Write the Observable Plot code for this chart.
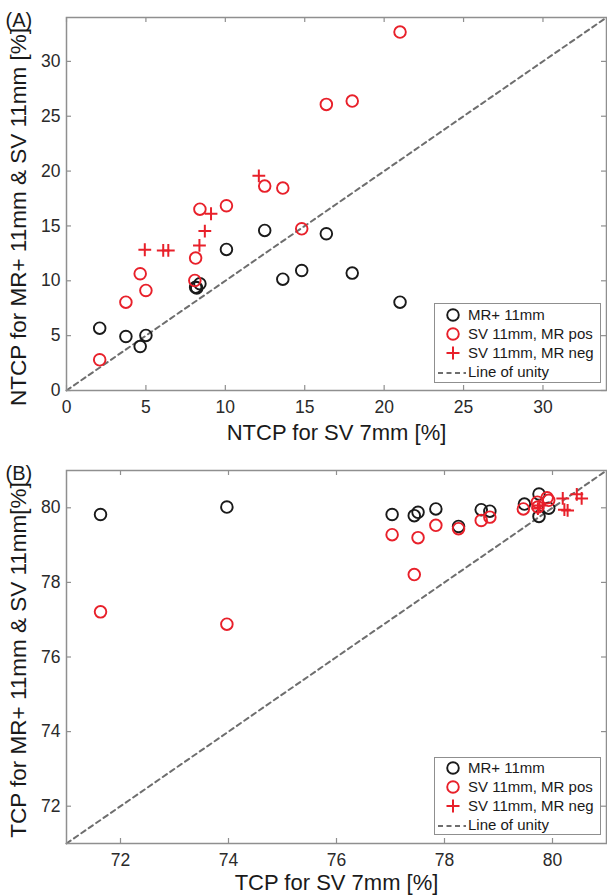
<!DOCTYPE html>
<html>
<head>
<meta charset="utf-8">
<script src="https://cdn.jsdelivr.net/npm/d3@7"></script>
<script src="https://cdn.jsdelivr.net/npm/@observablehq/plot@0.6"></script>
<style>
  body { margin: 0; background: #fff; }
  #wrap { position: relative; width: 607px; height: 896px; overflow: hidden;
          font-family: "Liberation Sans", Arial, sans-serif; }
  #wrap > svg { display: block; }
  .legend { position: absolute; background: #fff; border: 1.5px solid #8f8f8f;
            box-sizing: border-box; font-size: 15px; color: #1a1a1a; }
  .legend .row { position: absolute; left: 0; height: 20px; line-height: 20px; white-space: nowrap; }
  .legend .row svg { position: absolute; left: 0; top: 0; }
  .legend .row span { position: absolute; left: 33px; top: 0; }
  .ytitle { position: absolute; white-space: nowrap; font-size: 22.5px; color: #1a1a1a;
            line-height: 1; transform: translate(-50%, -50%) rotate(-90deg); }
</style>
</head>
<body>
<div id="wrap"></div>
<script>
// ---------------- Data ----------------
// Panel A: NTCP
const domainA = [0, 34];
const ticksA = [0, 5, 10, 15, 20, 25, 30];
const ntcpMrPlusX = [2.09, 3.74, 4.64, 5.0, 8.13, 8.40, 8.2, 10.07, 12.48, 13.62, 14.81, 16.36, 17.99, 21.0];
const ntcpMrPlusY = [5.68, 4.92, 4.01, 5.02, 9.42, 9.73, 9.35, 12.86, 14.59, 10.15, 10.94, 14.29, 10.70, 8.05];
const ntcpSvPosX = [2.09, 3.74, 4.64, 5.0, 8.13, 8.08, 8.40, 10.07, 12.48, 13.62, 14.81, 16.36, 17.99, 21.0];
const ntcpSvPosY = [2.80, 8.05, 10.64, 9.12, 12.07, 10.03, 16.53, 16.84, 18.63, 18.45, 14.74, 26.08, 26.38, 32.67];
const ntcpSvNegX = [4.93, 6.09, 6.41, 8.37, 8.71, 9.10, 12.11];
const ntcpSvNegY = [12.83, 12.77, 12.77, 13.22, 14.53, 16.11, 19.57];

// Panel B: TCP
const domainB = [71, 81];
const ticksB = [72, 74, 76, 78, 80];
const tcpMrPlusX = [71.63, 73.97, 77.03, 77.44, 77.51, 77.84, 78.26, 78.68, 78.84, 79.48, 79.75, 79.75, 79.93];
const tcpMrPlusY = [79.82, 80.02, 79.82, 79.79, 79.88, 79.97, 79.50, 79.95, 79.91, 80.10, 80.37, 79.77, 79.99];
const tcpSvPosX = [71.63, 73.97, 77.03, 77.51, 77.44, 77.84, 78.26, 78.68, 78.84, 79.46, 79.72, 79.73, 79.90, 79.93];
const tcpSvPosY = [77.21, 76.88, 79.28, 79.20, 78.21, 79.53, 79.44, 79.66, 79.75, 79.97, 80.15, 80.02, 80.27, 80.20];
const tcpSvNegX = [79.73, 79.76, 80.19, 80.22, 80.28, 80.45, 80.54];
const tcpSvNegY = [79.98, 80.06, 80.25, 79.95, 79.93, 80.36, 80.25];

const legendLabels = ["MR+ 11mm", "SV 11mm, MR pos", "SV 11mm, MR neg", "Line of unity"];

// ---------------- Styles ----------------
const FONT = '"Liberation Sans", Arial, sans-serif';
const RED = "#e8202a", BLACK = "#1a1a1a", FRAME = "#8f8f8f", UNITY = "#6e6e6e";
const zip = (xs, ys) => xs.map((x, i) => ({x, y: ys[i]}));

function panel(o) {
  const W = 607, mL = 66, mR = 1;
  const plotH = o.height - o.marginTop - o.marginBottom;
  const plotW = W - mL - mR;
  const tickStyle = {stroke: FRAME, strokeWidth: 1.2};
  return Plot.plot({
    width: W, height: o.height,
    marginLeft: mL, marginRight: mR, marginTop: o.marginTop, marginBottom: o.marginBottom,
    x: {domain: o.domain}, y: {domain: o.domain},
    style: {fontFamily: FONT, fontSize: "17.5px", background: "#fff", overflow: "visible"},
    marks: [
      Plot.line(o.domain, {x: d => d, y: d => d, stroke: UNITY, strokeWidth: 2, strokeDasharray: "5,4"}),
      Plot.dot(o.mr, {x: "x", y: "y", r: 5.8, stroke: BLACK, strokeWidth: 1.9}),
      Plot.dot(o.pos, {x: "x", y: "y", r: 5.8, stroke: RED, strokeWidth: 1.9}),
      Plot.dot(o.neg, {x: "x", y: "y", symbol: "plus", r: 4.2, stroke: RED, strokeWidth: 2}),
      Plot.tickX(o.ticks, {x: d => d, insetTop: plotH - 5, ...tickStyle}),
      Plot.tickX(o.ticks, {x: d => d, insetBottom: plotH - 5, ...tickStyle}),
      Plot.tickY(o.ticks, {y: d => d, insetRight: plotW - 5, ...tickStyle}),
      Plot.tickY(o.ticks, {y: d => d, insetLeft: plotW - 5, ...tickStyle}),
      Plot.frame({stroke: FRAME, strokeWidth: 1.5}),
      Plot.axisX(o.ticks, {tickSize: 0, tickPadding: 10, fontSize: 17.5, fill: "#2a2a2a", label: null}),
      Plot.axisY(o.ticks, {tickSize: 0, tickPadding: 6, fontSize: 17.5, fill: "#2a2a2a", label: null}),
      Plot.text([o.xTitle], {text: d => d, frameAnchor: "bottom", lineAnchor: "middle", dy: o.xTitleDy, fontSize: 22, fill: BLACK}),
      Plot.text([o.tag], {text: d => d, frameAnchor: "top-left", lineAnchor: "middle", dx: -61, dy: 3, textAnchor: "start", fontSize: 20, fill: BLACK})
    ]
  });
}

const wrap = document.getElementById("wrap");
wrap.append(panel({
  height: 440, marginTop: 17, marginBottom: 50,
  domain: domainA, ticks: ticksA,
  mr: zip(ntcpMrPlusX, ntcpMrPlusY), pos: zip(ntcpSvPosX, ntcpSvPosY), neg: zip(ntcpSvNegX, ntcpSvNegY),
  xTitle: "NTCP for SV 7mm [%]", xTitleDy: 42, tag: "(A)"
}));
wrap.append(panel({
  height: 456, marginTop: 30, marginBottom: 53,
  domain: domainB, ticks: ticksB,
  mr: zip(tcpMrPlusX, tcpMrPlusY), pos: zip(tcpSvPosX, tcpSvPosY), neg: zip(tcpSvNegX, tcpSvNegY),
  xTitle: "TCP for SV 7mm [%]", xTitleDy: 39, tag: "(B)"
}));

function yTitle(text, cx, cy) {
  const d = document.createElement("div");
  d.className = "ytitle";
  d.textContent = text;
  d.style.left = cx + "px";
  d.style.top = cy + "px";
  wrap.append(d);
}
yTitle("NTCP for MR+ 11mm & SV 11mm [%]", 19, 217);
yTitle("TCP for MR+ 11mm & SV 11mm[%]", 19, 660);

// ---------------- Legends ----------------
function symbolSvg(i) {
  const ns = "http://www.w3.org/2000/svg";
  const s = document.createElementNS(ns, "svg");
  s.setAttribute("width", 32); s.setAttribute("height", 20);
  let el;
  if (i === 0 || i === 1) {
    el = document.createElementNS(ns, "circle");
    el.setAttribute("cx", 18); el.setAttribute("cy", 10); el.setAttribute("r", 5.8);
    el.setAttribute("fill", "none"); el.setAttribute("stroke", i === 0 ? BLACK : RED);
    el.setAttribute("stroke-width", 1.9);
  } else if (i === 2) {
    el = document.createElementNS(ns, "path");
    el.setAttribute("d", "M11.5,10H24.5M18,3.5V16.5");
    el.setAttribute("stroke", RED); el.setAttribute("stroke-width", 2); el.setAttribute("fill", "none");
  } else {
    el = document.createElementNS(ns, "path");
    el.setAttribute("d", "M3,11H31");
    el.setAttribute("stroke", UNITY); el.setAttribute("stroke-width", 1.8);
    el.setAttribute("stroke-dasharray", "5,3.5");
  }
  s.append(el);
  return s;
}
function legend(left, top, height, rows) {
  const box = document.createElement("div");
  box.className = "legend";
  Object.assign(box.style, {left: left + "px", top: top + "px", width: "167px", height: height + "px"});
  legendLabels.forEach((lab, i) => {
    const r = document.createElement("div");
    r.className = "row";
    r.style.top = (rows[i] - 10) + "px";
    r.append(symbolSvg(i));
    const t = document.createElement("span");
    t.textContent = lab;
    r.append(t);
    box.append(r);
  });
  wrap.append(box);
}
legend(434, 303, 80, [11, 30, 49, 68]);
legend(434, 757, 78, [10, 29, 48, 67]);
</script>
</body>
</html>
